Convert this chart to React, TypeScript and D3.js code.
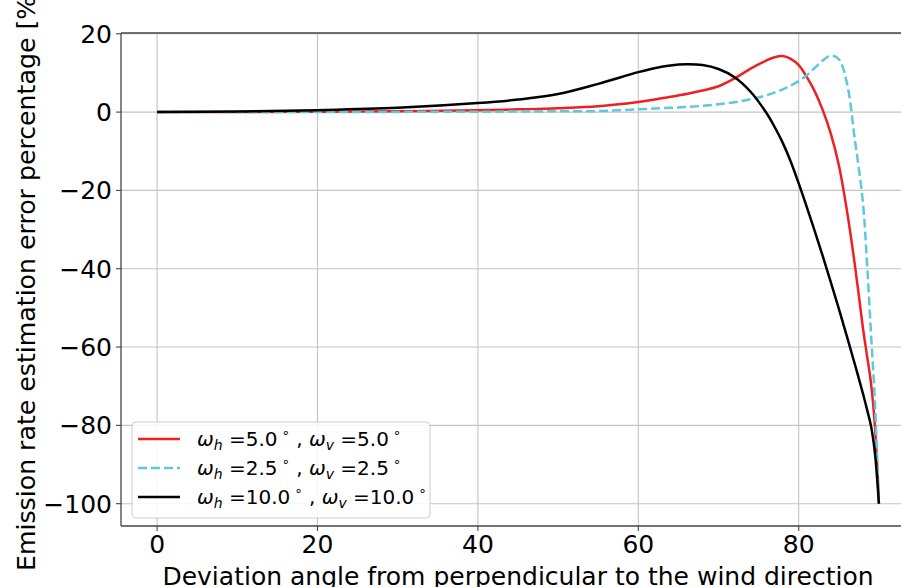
import React from "react";
import * as d3 from "d3";

const angles = [0, 10, 20, 30, 40, 45, 50, 55, 60, 62, 64, 66, 68, 70, 72, 74, 76, 77, 78, 79, 80, 81, 82, 83, 84, 85, 86, 87, 88, 88.5, 89, 89.5, 90];

const errW5 = [0, 0.02, 0.08, 0.2, 0.45, 0.7, 1.0, 1.5, 2.6, 3.2, 3.9, 4.6, 5.5, 6.6, 8.6, 11.1, 13.2, 14.0, 14.3, 13.6, 12.0, 9.0, 5.3, 0.5, -5.5, -13.5, -25, -39, -55, -62, -69, -80, -100];
const errW25 = [0, 0, 0.02, 0.05, 0.1, 0.15, 0.2, 0.25, 0.7, 0.9, 1.1, 1.3, 1.6, 2.0, 2.5, 3.3, 4.3, 5.0, 5.8, 6.8, 7.9, 9.4, 11.3, 13.2, 14.4, 13.5, 7.5, -7, -23, -38, -56, -74, -100];
const errW10 = [0, 0.15, 0.5, 1.1, 2.3, 3.2, 4.6, 7.2, 10.2, 11.2, 11.9, 12.2, 12.0, 11.0, 8.9, 5.2, -0.3, -3.8, -7.8, -12.6, -18.2, -24.2, -30.4, -36.8, -43.4, -50.2, -57.2, -64.4, -71.8, -75.8, -80, -87, -100];

const xTicks = [0, 20, 40, 60, 80];
const yTicks = [20, 0, -20, -40, -60, -80, -100];

const seriesNames = ["5.0", "2.5", "10.0"];
const seriesColors = ["#ee2020", "#5fc8dc", "#000000"];

const W = 901;
const H = 587;
const L = 121, R = 915, T = 33, B = 526;
const FONT = "DejaVu Sans, sans-serif";

export default function App() {
  const x = d3.scaleLinear().domain([-4.5, 94.5]).range([L, R]);
  const y = d3.scaleLinear().domain([-105.7, 20.2]).range([B, T]);
  const line = d3
    .line<[number, number]>()
    .x((d) => x(d[0]))
    .y((d) => y(d[1]))
    .curve(d3.curveCatmullRom.alpha(0.5));

  const series = [errW5, errW25, errW10].map((vals, i) => ({
    name: seriesNames[i],
    color: seriesColors[i],
    dash: i === 1 ? "9,4" : undefined,
    path: line(angles.map((a, j) => [a, vals[j]] as [number, number])) || "",
  }));

  const legX = 132, legY = 422, legW = 298, legH = 96;
  const rowY = [439, 468, 497];

  return (
    <svg
      width={W}
      height={H}
      style={{ position: "absolute", left: 0, top: 0, background: "#fff" }}
      fontFamily={FONT}
    >
      <defs>
        <clipPath id="plot">
          <rect x={L} y={T} width={R - L} height={B - T} />
        </clipPath>
      </defs>
      <rect x={0} y={0} width={W} height={H} fill="#fff" />
      {xTicks.map((t) => (
        <line key={"gx" + t} x1={x(t)} x2={x(t)} y1={T} y2={B} stroke="#c4c4c4" strokeWidth={1.1} />
      ))}
      {yTicks.map((t) => (
        <line key={"gy" + t} x1={L} x2={R} y1={y(t)} y2={y(t)} stroke="#c4c4c4" strokeWidth={1.1} />
      ))}
      <g clipPath="url(#plot)">
        {series.map((s) => (
          <path
            key={s.name}
            d={s.path}
            fill="none"
            stroke={s.color}
            strokeWidth={2.5}
            strokeDasharray={s.dash}
          />
        ))}
      </g>
      <line x1={L} x2={L} y1={T} y2={B} stroke="#444" strokeWidth={1.3} />
      <line x1={L} x2={R} y1={B} y2={B} stroke="#444" strokeWidth={1.3} />
      <line x1={L} x2={R} y1={T} y2={T} stroke="#444" strokeWidth={1.3} />
      <line x1={R} x2={R} y1={T} y2={B} stroke="#444" strokeWidth={1.3} />
      {xTicks.map((t) => (
        <g key={"tx" + t}>
          <line x1={x(t)} x2={x(t)} y1={B} y2={B + 5} stroke="#444" strokeWidth={1.1} />
          <text x={x(t)} y={553} fontSize={25} textAnchor="middle" fill="#000">
            {String(t)}
          </text>
        </g>
      ))}
      {yTicks.map((t) => (
        <g key={"ty" + t}>
          <line x1={L - 5} x2={L} y1={y(t)} y2={y(t)} stroke="#444" strokeWidth={1.1} />
          <text x={112} y={y(t) + 9} fontSize={25} textAnchor="end" fill="#000">
            {t < 0 ? "\u2212" + Math.abs(t) : String(t)}
          </text>
        </g>
      ))}
      <text x={(L + R) / 2} y={585} fontSize={25} textAnchor="middle" fill="#000">
        Deviation angle from perpendicular to the wind direction
      </text>
      <text
        transform={`translate(35, 278.5) rotate(-90)`}
        fontSize={25.2}
        textAnchor="middle"
        fill="#000"
      >
        Emission rate estimation error percentage [%]
      </text>
      <rect
        x={legX}
        y={legY}
        width={legW}
        height={legH}
        rx={4}
        ry={4}
        fill="#fff"
        fillOpacity={0.85}
        stroke="#cccccc"
        strokeWidth={1}
      />
      {series.map((s, i) => (
        <g key={"leg" + s.name}>
          <line
            x1={138}
            x2={180}
            y1={rowY[i]}
            y2={rowY[i]}
            stroke={s.color}
            strokeWidth={2.5}
            strokeDasharray={s.dash}
          />
          <text x={197} y={rowY[i] + 7} fontSize={20} fill="#000">
            <tspan fontStyle="italic">ω</tspan>
            <tspan fontSize={14} fontStyle="italic" dy={4}>h</tspan>
            <tspan dy={-4}>{" =" + s.name}</tspan>
            <tspan fontSize={13} dy={-9}>{" ∘"}</tspan>
            <tspan dy={9}>{" , "}</tspan>
            <tspan fontStyle="italic">ω</tspan>
            <tspan fontSize={14} fontStyle="italic" dy={4}>v</tspan>
            <tspan dy={-4}>{" =" + s.name}</tspan>
            <tspan fontSize={13} dy={-9}>{" ∘"}</tspan>
          </text>
        </g>
      ))}
    </svg>
  );
}
